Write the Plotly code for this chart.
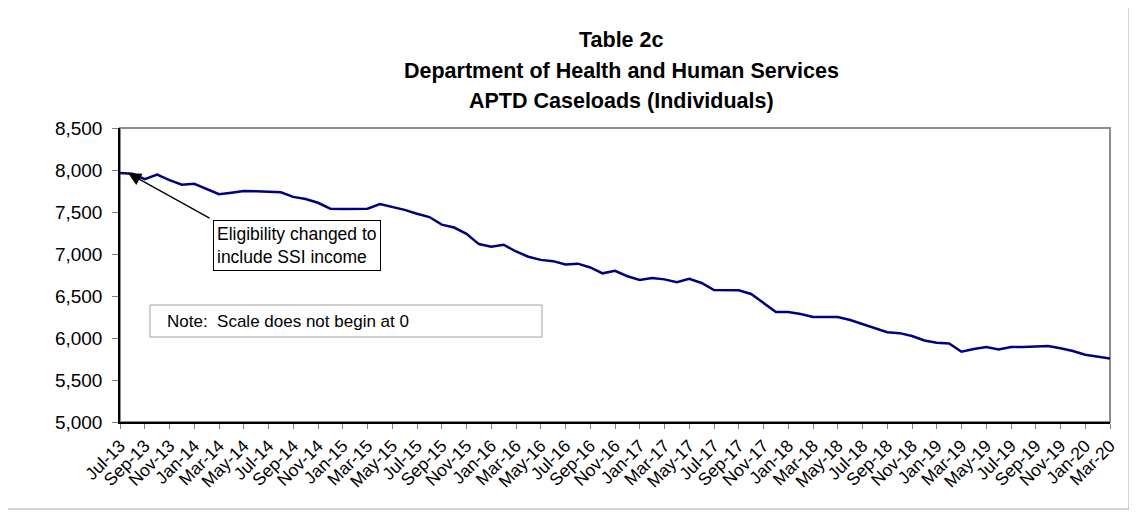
import plotly.graph_objects as go
import pandas as pd

# Monthly categories Jul-13 .. Mar-20
months = [d.strftime("%b-%y") for d in pd.date_range("2013-07-01", "2020-03-01", freq="MS")]

caseloads = [
    7965, 7955, 7890, 7944, 7880, 7825, 7835, 7770, 7712, 7730,
    7750, 7748, 7745, 7735, 7680, 7655, 7610, 7540, 7535, 7540,
    7540, 7595, 7560, 7525, 7480, 7440, 7350, 7315, 7240, 7118,
    7087, 7110, 7030, 6968, 6930, 6915, 6875, 6885, 6840, 6770,
    6800, 6735, 6692, 6714, 6698, 6663, 6706, 6655, 6570, 6565,
    6567, 6524, 6413, 6310, 6310, 6285, 6250, 6246, 6250, 6214,
    6165, 6120, 6068, 6058, 6024, 5970, 5944, 5935, 5837, 5870,
    5892, 5862, 5893, 5893, 5897, 5905, 5878, 5845, 5800, 5775,
    5755,
]

tick_labels = months[::2]
y_ticks = [5000, 5500, 6000, 6500, 7000, 7500, 8000, 8500]
title_lines = ["Table 2c", "Department of Health and Human Services", "APTD Caseloads (Individuals)"]

FONT = "Liberation Sans, Arial, sans-serif"

fig = go.Figure()
fig.add_trace(go.Scatter(
    x=list(range(len(months))), y=caseloads, mode="lines",
    line=dict(color="#000080", width=2.5), hoverinfo="skip", showlegend=False,
))

OFF = 8  # page body margin
W, H = 1137 - OFF, 517 - OFF
PL, PR, PT, PB = 120, 1110, 128, 422  # plot area in page pixels
L, T = PL - OFF, PT - OFF
R, B = W - (PR - OFF), H - (PB - OFF)
pw, ph = PR - PL, PB - PT

def px(x):
    return (x - PL) / pw

def py(y):
    return (PB - y) / ph

annotations = [
    dict(x=0.65, y=7964, xref="x", yref="y", text="", showarrow=True,
         ax=83, ay=46, arrowhead=2, arrowsize=2.0, arrowwidth=1.3,
         arrowcolor="black"),
    dict(x=px(213), y=py(220), xref="paper", yref="paper",
         xanchor="left", yanchor="top", align="left", showarrow=False,
         text="Eligibility changed to<br>include SSI income",
         font=dict(family=FONT, size=17.5, color="black"),
         bordercolor="black", borderwidth=1, borderpad=3, bgcolor="white"),
    dict(x=px(165), y=py(321), xref="paper", yref="paper",
         xanchor="left", yanchor="middle", showarrow=False,
         text="Note:  Scale does not begin at 0",
         font=dict(family=FONT, size=17, color="black")),
]
for line, yc in zip(title_lines, [40, 71, 101]):
    annotations.append(dict(
        x=px(621), y=py(yc), xref="paper", yref="paper",
        xanchor="center", yanchor="middle", showarrow=False,
        text="<b>" + line + "</b>",
        font=dict(family=FONT, size=21.5, color="black"),
    ))

fig.update_layout(
    width=W, height=H,
    margin=dict(l=L, r=R, t=T, b=B),
    paper_bgcolor="white", plot_bgcolor="white",
    font=dict(family=FONT, size=17, color="black"),
    xaxis=dict(
        range=[0, len(months) - 1],
        tickmode="array",
        tickvals=list(range(0, len(months), 2)),
        ticktext=tick_labels,
        tickangle=-45,
        ticks="outside", ticklen=5, tickcolor="#808080",
        showline=True, linecolor="black", linewidth=1.5,
        showgrid=False, zeroline=False,
        tickfont=dict(family=FONT, size=17.5, color="black"),
    ),
    yaxis=dict(
        range=[5000, 8500],
        tickvals=y_ticks,
        tickformat=",",
        ticks="outside", ticklen=6, tickcolor="#808080",
        ticklabelstandoff=6,
        showline=True, linecolor="black", linewidth=1.5,
        showgrid=False, zeroline=False,
        tickfont=dict(family=FONT, size=19, color="black"),
    ),
    shapes=[
        dict(type="rect", xref="paper", yref="paper", x0=0, x1=1, y0=0, y1=1,
             line=dict(color="#8c8c8c", width=2), layer="below"),
        dict(type="rect", xref="paper", yref="paper",
             x0=px(7.5), x1=px(1129), y0=py(509), y1=py(7.5),
             line=dict(color="#a6a6a6", width=1), layer="below"),
        dict(type="rect", xref="paper", yref="paper",
             x0=px(150), x1=px(542), y0=py(337), y1=py(305),
             line=dict(color="#a0a0a0", width=1), layer="above"),
    ],
    annotations=annotations,
)

fig.write_html("out.html")
